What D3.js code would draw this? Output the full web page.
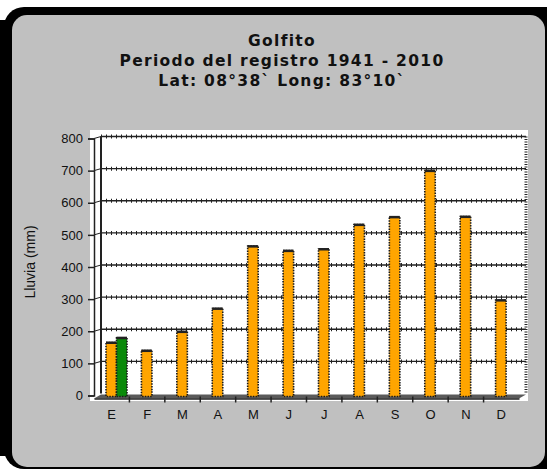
<!DOCTYPE html>
<html>
<head>
<meta charset="utf-8">
<script src="https://cdn.jsdelivr.net/npm/d3@7"></script>
<style>
  body { margin: 0; background: #fff; }
  svg { display: block; }
  text { font-family: "Liberation Sans", Arial, sans-serif; fill: #111; }
  .title { font-family: "DejaVu Sans", Verdana, sans-serif; font-weight: bold; font-size: 15.5px; letter-spacing: 1.3px; }
</style>
</head>
<body>
<div id="chart"></div>
<script>
const WIDTH = 547;
const HEIGHT = 470;

// datos
const meses = ['E', 'F', 'M', 'A', 'M', 'J', 'J', 'A', 'S', 'O', 'N', 'D'];
const lluvia = [165, 140, 199, 271, 465, 451, 456, 532, 556, 700, 557, 297];
const lluviaVerde = [180]; // solo enero
const yTicks = [0, 100, 200, 300, 400, 500, 600, 700, 800];
const titulo = ['Golfito', 'Periodo del registro 1941 - 2010', 'Lat: 08°38` Long: 83°10`'];

const DX = 7;   // profundidad 3D
const DY = -2;

const svg = d3.select('#chart').append('svg')
  .attr('width', WIDTH)
  .attr('height', HEIGHT);

// marco
svg.append('rect')
  .attr('x', 4).attr('y', 7)
  .attr('width', 570).attr('height', 462)
  .attr('rx', 20)
  .attr('fill', '#000');
svg.append('rect')
  .attr('x', 0).attr('y', 20)
  .attr('width', 14).attr('height', 436)
  .attr('fill', '#000');
svg.append('rect')
  .attr('x', 12).attr('y', 15)
  .attr('width', 533).attr('height', 452)
  .attr('rx', 15)
  .attr('fill', '#c0c0c0');

// titulo
svg.selectAll('text.title')
  .data(titulo).enter()
  .append('text')
  .attr('class', 'title')
  .attr('x', 282)
  .attr('y', (d, i) => 46 + i * 20)
  .attr('text-anchor', 'middle')
  .text(d => d);

const x = d3.scaleBand().domain(d3.range(meses.length)).range([94, 519]);
const y = d3.scaleLinear().domain([0, 800]).range([395.5, 138.5]);

// area blanca
svg.append('rect')
  .attr('x', 90).attr('y', 130)
  .attr('width', 438).attr('height', 271)
  .attr('fill', '#fff');

const g = svg.append('g');

// piso
g.append('path')
  .attr('d', `M${x.range()[0]},${y(0) + 3}L${x.range()[1]},${y(0) + 3}L${x.range()[1] + DX},${y(0) + 3 + DY - 2}L${x.range()[0] + DX},${y(0) + 3 + DY - 2}Z`)
  .attr('fill', '#5a5a5a');

// lineas de division
const grid = yTicks.filter(v => v > 0);
g.selectAll('line.grid')
  .data(grid).enter()
  .append('line')
  .attr('class', 'grid')
  .attr('x1', x.range()[0] + DX).attr('x2', x.range()[1] + DX)
  .attr('y1', d => y(d) + DY).attr('y2', d => y(d) + DY)
  .attr('stroke', '#222').attr('stroke-width', 1.3);
g.selectAll('line.gridDots')
  .data(grid).enter()
  .append('line')
  .attr('class', 'gridDots')
  .attr('x1', x.range()[0] + DX).attr('x2', x.range()[1] + DX)
  .attr('y1', d => y(d) + DY).attr('y2', d => y(d) + DY)
  .attr('stroke', '#222').attr('stroke-width', 4)
  .attr('stroke-dasharray', '1,4');
g.selectAll('line.diag')
  .data(grid).enter()
  .append('line')
  .attr('x1', x.range()[0]).attr('x2', x.range()[0] + DX)
  .attr('y1', d => y(d)).attr('y2', d => y(d) + DY)
  .attr('stroke', '#222');

// pared del fondo
g.append('line')
  .attr('x1', x.range()[0] + DX).attr('x2', x.range()[0] + DX)
  .attr('y1', y(800) + DY).attr('y2', y(0) + DY)
  .attr('stroke', '#222').attr('stroke-width', 2);
g.append('line')
  .attr('x1', x.range()[1] + DX).attr('x2', x.range()[1] + DX)
  .attr('y1', y(800) + DY).attr('y2', y(0) + DY)
  .attr('stroke', '#222').attr('stroke-width', 3)
  .attr('stroke-dasharray', '1,1.5');

// eje y
const yAxis = g.append('g')
  .attr('transform', `translate(${x.range()[0]},0)`)
  .call(d3.axisLeft(y).tickValues(yTicks).tickSize(6).tickPadding(5));
yAxis.select('.domain').attr('stroke', '#222').attr('stroke-width', 1.5);
yAxis.selectAll('.tick line').attr('stroke', '#222').attr('stroke-width', 1.5);
yAxis.selectAll('text')
  .style('font-family', '"Liberation Sans", Arial, sans-serif')
  .style('font-size', '13px')
  .attr('fill', '#111');

svg.append('text')
  .attr('transform', 'translate(35,262) rotate(-90)')
  .attr('text-anchor', 'middle')
  .style('font-size', '14px')
  .text('Lluvia (mm)');

// eje x
const xAxis = g.append('g')
  .attr('transform', `translate(0,${y(0) + 3})`)
  .call(d3.axisBottom(x).tickValues([]).tickSizeOuter(0));
xAxis.select('.domain').attr('stroke', '#222').attr('stroke-width', 1.5);
g.selectAll('line.xtick')
  .data(d3.range(1, meses.length)).enter()
  .append('line')
  .attr('x1', d => x(d)).attr('x2', d => x(d))
  .attr('y1', y(0) + 1).attr('y2', y(0) + 7)
  .attr('stroke', '#222').attr('stroke-width', 1.5);
g.selectAll('text.mes')
  .data(meses).enter()
  .append('text')
  .attr('class', 'mes')
  .attr('x', (d, i) => x(i) + x.bandwidth() / 2)
  .attr('y', 419)
  .attr('text-anchor', 'middle')
  .style('font-size', '13px')
  .text(d => d);

// barras
const BW = 10.5;
function drawBars(data, color, offset, cls) {
  const bars = g.selectAll(`g.${cls}`)
    .data(data).enter()
    .append('g')
    .attr('class', cls);
  bars.append('rect')
    .attr('x', (d, i) => x(i) + x.bandwidth() / 2 + offset)
    .attr('y', d => y(d))
    .attr('width', BW)
    .attr('height', d => y(0) + 1 - y(d))
    .attr('fill', color)
    .attr('stroke', '#1a1a1a')
    .attr('stroke-width', 1.6)
    .attr('stroke-dasharray', '1.5,1.2');
  bars.append('rect')
    .attr('x', (d, i) => x(i) + x.bandwidth() / 2 + offset)
    .attr('y', d => y(d) - 1)
    .attr('width', BW)
    .attr('height', 2.5)
    .attr('fill', '#222');
}
drawBars(lluvia, '#ffa500', -5.7, 'naranja');
drawBars(lluviaVerde, '#0a8a0a', 4.8, 'verde');
</script>
</body>
</html>
